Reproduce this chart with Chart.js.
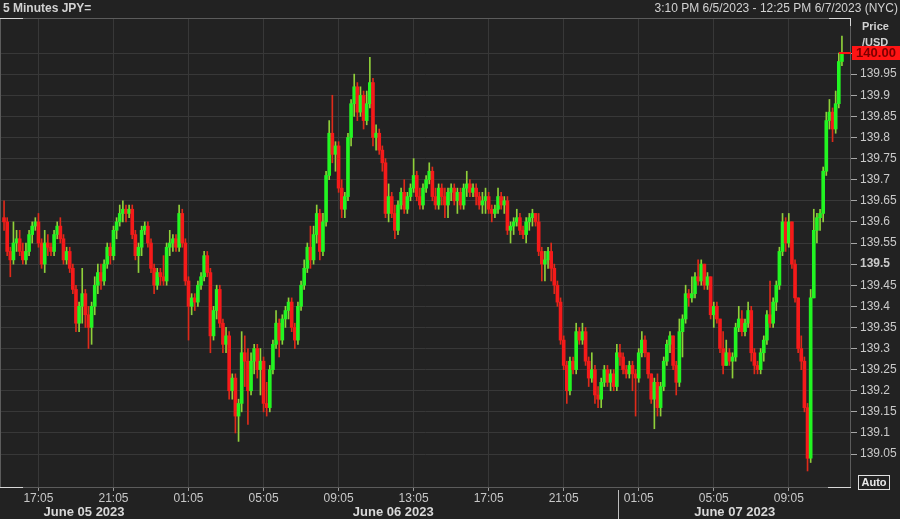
<!DOCTYPE html>
<html>
<head>
<meta charset="utf-8">
<script src="https://cdn.jsdelivr.net/npm/chart.js@4/dist/chart.umd.min.js"></script>
<style>
html,body{margin:0;padding:0;background:#222222;}
#wrap{position:relative;width:900px;height:519px;background:#222222;overflow:hidden;font-family:"Liberation Sans",Arial,sans-serif;}
#c{position:absolute;left:0;top:0;}
.t{position:absolute;white-space:nowrap;color:#d2d2d2;}
.day{position:absolute;top:504px;font-family:"Liberation Sans",Arial,sans-serif;font-weight:bold;font-size:13px;color:#d8d8d8;transform:translateX(-50%);white-space:nowrap;}
#tag{position:absolute;left:852px;width:48px;height:14px;background:#ff1414;color:#7a0000;font-weight:bold;font-size:13px;line-height:14px;text-align:center;}
#auto{position:absolute;left:858px;top:475px;width:30px;height:13px;border:1px solid #e0e0e0;color:#e8e8e8;font-weight:bold;font-size:11px;line-height:13px;text-align:center;}
#sep{position:absolute;top:490px;width:1px;height:29px;background:#bdbdbd;}
</style>
</head>
<body>
<div id="wrap">
<canvas id="c" width="900" height="519"></canvas>
<div class="t" id="title" style="left:3px;top:1px;font-weight:bold;font-size:12px;"></div>
<div class="t" id="range" style="right:2px;top:1px;font-size:12px;"></div>
<div class="t" style="left:862px;top:18px;font-weight:bold;font-size:11px;line-height:16px;">Price<br>/USD</div>
<div id="tag"></div>
<div id="auto">Auto</div>
<div id="sep"></div>
</div>
<script>
// ---------- data (10-minute candles) ----------
const titleText = '5 Minutes JPY=';
const rangeText = '3:10 PM 6/5/2023 - 12:25 PM 6/7/2023 (NYC)';
const candleStart = '2023-06-05T15:10';
const candleMinutes = 10;
const firstOpen = 139.61;
const closes = [
139.60,139.53,139.51,139.55,139.56,139.53,139.51,139.53,139.57,139.59,
139.60,139.55,139.50,139.55,139.54,139.53,139.57,139.59,139.56,139.51,
139.53,139.49,139.44,139.36,139.40,139.43,139.38,139.35,139.40,139.45,
139.48,139.46,139.50,139.54,139.52,139.58,139.60,139.62,139.63,139.62,
139.63,139.57,139.52,139.54,139.58,139.59,139.55,139.49,139.45,139.48,
139.47,139.46,139.54,139.55,139.56,139.54,139.62,139.55,139.46,139.40,
139.42,139.41,139.45,139.47,139.52,139.48,139.33,139.39,139.44,139.36,
139.31,139.33,139.20,139.23,139.14,139.17,139.29,139.27,139.20,139.27,
139.30,139.25,139.27,139.17,139.16,139.25,139.31,139.36,139.32,139.37,
139.39,139.41,139.35,139.32,139.40,139.45,139.49,139.54,139.51,139.57,
139.62,139.53,139.60,139.71,139.81,139.76,139.78,139.68,139.63,139.66,
139.80,139.88,139.92,139.86,139.90,139.84,139.88,139.93,139.80,139.81,
139.77,139.74,139.62,139.66,139.62,139.58,139.64,139.67,139.63,139.66,
139.68,139.71,139.66,139.64,139.68,139.70,139.72,139.66,139.64,139.68,
139.66,139.64,139.67,139.68,139.65,139.67,139.64,139.68,139.69,139.67,
139.68,139.66,139.64,139.65,139.66,139.63,139.62,139.63,139.66,139.64,
139.65,139.58,139.59,139.60,139.61,139.58,139.57,139.60,139.61,139.62,
139.60,139.53,139.50,139.51,139.53,139.49,139.45,139.41,139.32,139.26,
139.20,139.27,139.25,139.34,139.32,139.34,139.27,139.23,139.25,139.19,
139.18,139.22,139.25,139.22,139.24,139.21,139.29,139.28,139.25,139.24,
139.26,139.24,139.23,139.29,139.32,139.29,139.24,139.18,139.22,139.16,
139.21,139.27,139.31,139.33,139.26,139.22,139.34,139.37,139.43,139.42,
139.43,139.47,139.46,139.50,139.45,139.47,139.38,139.40,139.37,139.30,
139.26,139.29,139.27,139.28,139.35,139.37,139.34,139.36,139.39,139.29,
139.26,139.25,139.29,139.32,139.38,139.36,139.41,139.45,139.53,139.60,
139.55,139.60,139.50,139.42,139.30,139.27,139.16,139.04,139.42,139.58,
139.61,139.62,139.72,139.84,139.86,139.82,139.88,139.98,140.00
];
const highs = [
139.65,139.61,139.54,139.60,139.58,139.58,139.55,139.55,139.58,139.60,
139.61,139.62,139.56,139.58,139.57,139.55,139.58,139.60,139.61,139.57,
139.54,139.54,139.50,139.45,139.41,139.49,139.44,139.40,139.41,139.47,
139.50,139.50,139.51,139.55,139.55,139.59,139.61,139.64,139.65,139.64,
139.64,139.64,139.58,139.55,139.59,139.60,139.60,139.56,139.50,139.49,
139.49,139.52,139.55,139.58,139.57,139.57,139.64,139.63,139.56,139.47,
139.43,139.43,139.46,139.48,139.53,139.53,139.49,139.40,139.45,139.45,
139.37,139.35,139.34,139.24,139.24,139.18,139.34,139.33,139.30,139.29,
139.31,139.31,139.30,139.28,139.22,139.26,139.32,139.39,139.37,139.38,
139.40,139.42,139.42,139.36,139.41,139.46,139.51,139.55,139.59,139.59,
139.64,139.63,139.62,139.72,139.84,139.90,139.79,139.79,139.70,139.67,
139.81,139.89,139.95,139.93,139.92,139.91,139.91,139.99,139.94,139.83,
139.82,139.78,139.75,139.69,139.67,139.64,139.65,139.68,139.70,139.67,
139.69,139.75,139.72,139.68,139.69,139.71,139.74,139.73,139.68,139.69,
139.69,139.68,139.68,139.69,139.69,139.68,139.68,139.69,139.72,139.70,
139.69,139.69,139.67,139.67,139.68,139.67,139.64,139.64,139.68,139.67,
139.66,139.66,139.60,139.61,139.63,139.62,139.59,139.61,139.62,139.63,
139.62,139.62,139.54,139.53,139.54,139.55,139.50,139.46,139.42,139.33,
139.27,139.28,139.28,139.36,139.35,139.36,139.35,139.28,139.29,139.26,
139.21,139.23,139.26,139.26,139.25,139.25,139.31,139.31,139.29,139.26,
139.27,139.27,139.25,139.30,139.34,139.33,139.29,139.24,139.23,139.24,
139.22,139.28,139.32,139.34,139.33,139.27,139.37,139.38,139.45,139.44,
139.47,139.48,139.51,139.51,139.50,139.48,139.47,139.41,139.41,139.37,
139.34,139.32,139.30,139.29,139.36,139.40,139.39,139.37,139.41,139.40,
139.30,139.27,139.30,139.33,139.39,139.46,139.42,139.46,139.54,139.62,
139.61,139.62,139.60,139.51,139.42,139.33,139.28,139.17,139.44,139.63,
139.62,139.63,139.73,139.86,139.89,139.87,139.91,140.00,140.04
];
const lows = [
139.58,139.52,139.47,139.50,139.53,139.52,139.50,139.50,139.52,139.55,
139.58,139.54,139.49,139.48,139.52,139.52,139.52,139.56,139.55,139.50,
139.50,139.48,139.43,139.34,139.34,139.36,139.35,139.30,139.31,139.38,
139.43,139.44,139.45,139.49,139.50,139.51,139.56,139.59,139.60,139.60,
139.61,139.56,139.51,139.48,139.52,139.57,139.54,139.48,139.43,139.44,
139.45,139.45,139.45,139.52,139.53,139.53,139.53,139.54,139.45,139.32,
139.38,139.39,139.40,139.44,139.46,139.47,139.29,139.32,139.37,139.35,
139.29,139.29,139.18,139.18,139.10,139.08,139.15,139.21,139.12,139.19,
139.24,139.23,139.19,139.15,139.14,139.15,139.24,139.30,139.28,139.31,
139.35,139.37,139.34,139.30,139.31,139.39,139.44,139.48,139.49,139.50,
139.55,139.51,139.52,139.59,139.70,139.74,139.72,139.67,139.61,139.61,
139.65,139.78,139.85,139.84,139.85,139.82,139.83,139.87,139.78,139.77,
139.76,139.72,139.61,139.60,139.61,139.56,139.57,139.63,139.62,139.62,
139.65,139.67,139.65,139.63,139.63,139.67,139.69,139.65,139.63,139.63,
139.64,139.61,139.61,139.65,139.64,139.62,139.63,139.63,139.66,139.66,
139.66,139.64,139.63,139.62,139.62,139.62,139.60,139.61,139.62,139.63,
139.62,139.57,139.55,139.57,139.59,139.57,139.56,139.55,139.58,139.59,
139.59,139.52,139.46,139.46,139.49,139.46,139.43,139.40,139.31,139.25,
139.17,139.19,139.24,139.24,139.31,139.31,139.26,139.21,139.22,139.17,
139.16,139.16,139.21,139.21,139.20,139.20,139.20,139.26,139.24,139.23,
139.23,139.20,139.14,139.22,139.28,139.28,139.23,139.17,139.11,139.14,
139.14,139.20,139.26,139.29,139.25,139.19,139.21,139.28,139.36,139.40,
139.41,139.42,139.45,139.45,139.44,139.44,139.37,139.35,139.36,139.29,
139.24,139.26,139.26,139.23,139.27,139.34,139.33,139.33,139.35,139.27,
139.24,139.24,139.24,139.27,139.31,139.35,139.35,139.39,139.44,139.52,
139.53,139.54,139.49,139.41,139.29,139.25,139.15,139.01,139.03,139.42,
139.55,139.58,139.60,139.71,139.82,139.79,139.81,139.87,139.97
];
const yTicks = [139.05,139.1,139.15,139.2,139.25,139.3,139.35,139.4,139.45,139.5,
                139.55,139.6,139.65,139.7,139.75,139.8,139.85,139.9,139.95,140];
const boldTick = 139.5;
const xTickTimes = ['2023-06-05T17:05','2023-06-05T21:05','2023-06-06T01:05','2023-06-06T05:05',
  '2023-06-06T09:05','2023-06-06T13:05','2023-06-06T17:05','2023-06-06T21:05',
  '2023-06-07T01:05','2023-06-07T05:05','2023-06-07T09:05'];
const dayLabels = ['June 05 2023','June 06 2023','June 07 2023'];
const dayStarts = ['2023-06-05T00:00','2023-06-06T00:00','2023-06-07T00:00'];
const viewFrom = '2023-06-05T15:02';
const viewTo = '2023-06-07T12:24';
const separatorAt = '2023-06-07T00:00';

// ---------- helpers ----------
function utc(s){const [d,t]=s.split('T');const [Y,M,D]=d.split('-').map(Number);const [h,m]=t.split(':').map(Number);return Date.UTC(Y,M-1,D,h,m);}
const t0 = utc(candleStart);
const toMin = s => (utc(s)-t0)/60000;

const opens = closes.map((c,i)=> i===0 ? firstOpen : closes[i-1]);
const xs = closes.map((c,i)=> i*candleMinutes + candleMinutes/2);
const up = closes.map((c,i)=> c >= opens[i]);
const bodyData = closes.map((c,i)=>({x:xs[i], y:[opens[i], c]}));
const wickData = closes.map((c,i)=>({x:xs[i], y:[Math.min(lows[i],opens[i],c), Math.max(highs[i],opens[i],c)]}));
const GREEN='#22f522', RED='#f51a1a', GWICK='#8fd03a', RWICK='#de2a1a';

document.getElementById('title').textContent = titleText;
document.getElementById('range').textContent = rangeText;

const xTickVals = xTickTimes.map(toMin);
const xTickText = xTickTimes.map(s=>s.split('T')[1]);
const FONT = '"Liberation Sans", Arial, sans-serif';

const framePlugin = {
  id:'frame',
  afterDraw(chart){
    const {ctx, chartArea:a} = chart;
    ctx.save();
    ctx.strokeStyle='#5c5c5c'; ctx.lineWidth=1;
    ctx.strokeRect(a.left+0.5, a.top+0.5, a.right-a.left-1, a.bottom-a.top);
    ctx.strokeStyle='#d8d8d8';
    ctx.beginPath();
    ctx.moveTo(a.left, a.top+0.5); ctx.lineTo(a.left+23, a.top+0.5);
    ctx.moveTo(a.right-22, a.top+0.5); ctx.lineTo(a.right, a.top+0.5);
    ctx.moveTo(a.right-0.5, a.top); ctx.lineTo(a.right-0.5, a.top+8);
    ctx.moveTo(a.left, a.bottom+0.5); ctx.lineTo(a.left+23, a.bottom+0.5);
    ctx.moveTo(a.right-23, a.bottom+0.5); ctx.lineTo(a.right, a.bottom+0.5);
    ctx.stroke();
    // last price marker
    const y = chart.scales.y.getPixelForValue(closes[closes.length-1]);
    ctx.strokeStyle='#ff1414'; ctx.lineWidth=2;
    ctx.beginPath(); ctx.moveTo(a.right-12, y); ctx.lineTo(a.right, y); ctx.stroke();
    ctx.restore();
  }
};

const chart = new Chart(document.getElementById('c'), {
  type:'bar',
  data:{datasets:[
    {data:wickData, grouped:false, barThickness:1, backgroundColor:up.map(u=>u?GWICK:RWICK), borderWidth:0, order:2},
    {data:bodyData, grouped:false, barThickness:3, backgroundColor:up.map(u=>u?GREEN:RED), borderWidth:0, order:1}
  ]},
  options:{
    responsive:false, animation:false,
    layout:{padding:{top:18,left:0,right:0,bottom:0}},
    plugins:{legend:{display:false}, tooltip:{enabled:false}},
    scales:{
      x:{type:'linear', min:toMin(viewFrom), max:toMin(viewTo), offset:false,
         afterBuildTicks(s){ s.ticks = xTickVals.map(v=>({value:v})); },
         afterFit(s){ s.height = 32; },
         grid:{offset:false, color:'#383838', tickColor:'#9a9a9a', tickLength:4, drawTicks:true},
         border:{display:false},
         ticks:{autoSkip:false, maxRotation:0, padding:0, color:'#c8c8c8', font:{family:FONT, size:12},
                callback:(v,i)=>xTickText[i]}},
      y:{type:'linear', position:'right', min:138.972, max:140.083,
         afterBuildTicks(s){ s.ticks = yTicks.map(v=>({value:v})); },
         afterFit(s){ s.width = 49; },
         grid:{color:'#383838', tickColor:'#a8a8a8', tickLength:6},
         border:{display:false},
         ticks:{padding:3, color:'#cacaca',
                font:(ctx)=>({family:FONT, size:12, weight:(ctx.tick && ctx.tick.value===boldTick)?'bold':'normal'}),
                callback:v=>String(+Number(v).toFixed(2))}}
    }
  },
  plugins:[framePlugin]
});

// HTML overlays positioned from the chart scales
const xs_ = chart.scales.x, ys_ = chart.scales.y;
const tag = document.getElementById('tag');
const last = closes[closes.length-1];
tag.textContent = last.toFixed(2);
tag.style.top = (ys_.getPixelForValue(last) - 7) + 'px';
const wrap = document.getElementById('wrap');
const vMin = toMin(viewFrom), vMax = toMin(viewTo);
dayLabels.forEach((lab,i)=>{
  const s = Math.max(toMin(dayStarts[i]), vMin);
  const e = Math.min(toMin(dayStarts[i]) + 1440, vMax);
  const d = document.createElement('div');
  d.className='day'; d.textContent=lab;
  d.style.left = xs_.getPixelForValue((s+e)/2) + 'px';
  wrap.appendChild(d);
});
document.getElementById('sep').style.left = Math.round(xs_.getPixelForValue(toMin(separatorAt))) + 'px';
</script>
</body>
</html>
